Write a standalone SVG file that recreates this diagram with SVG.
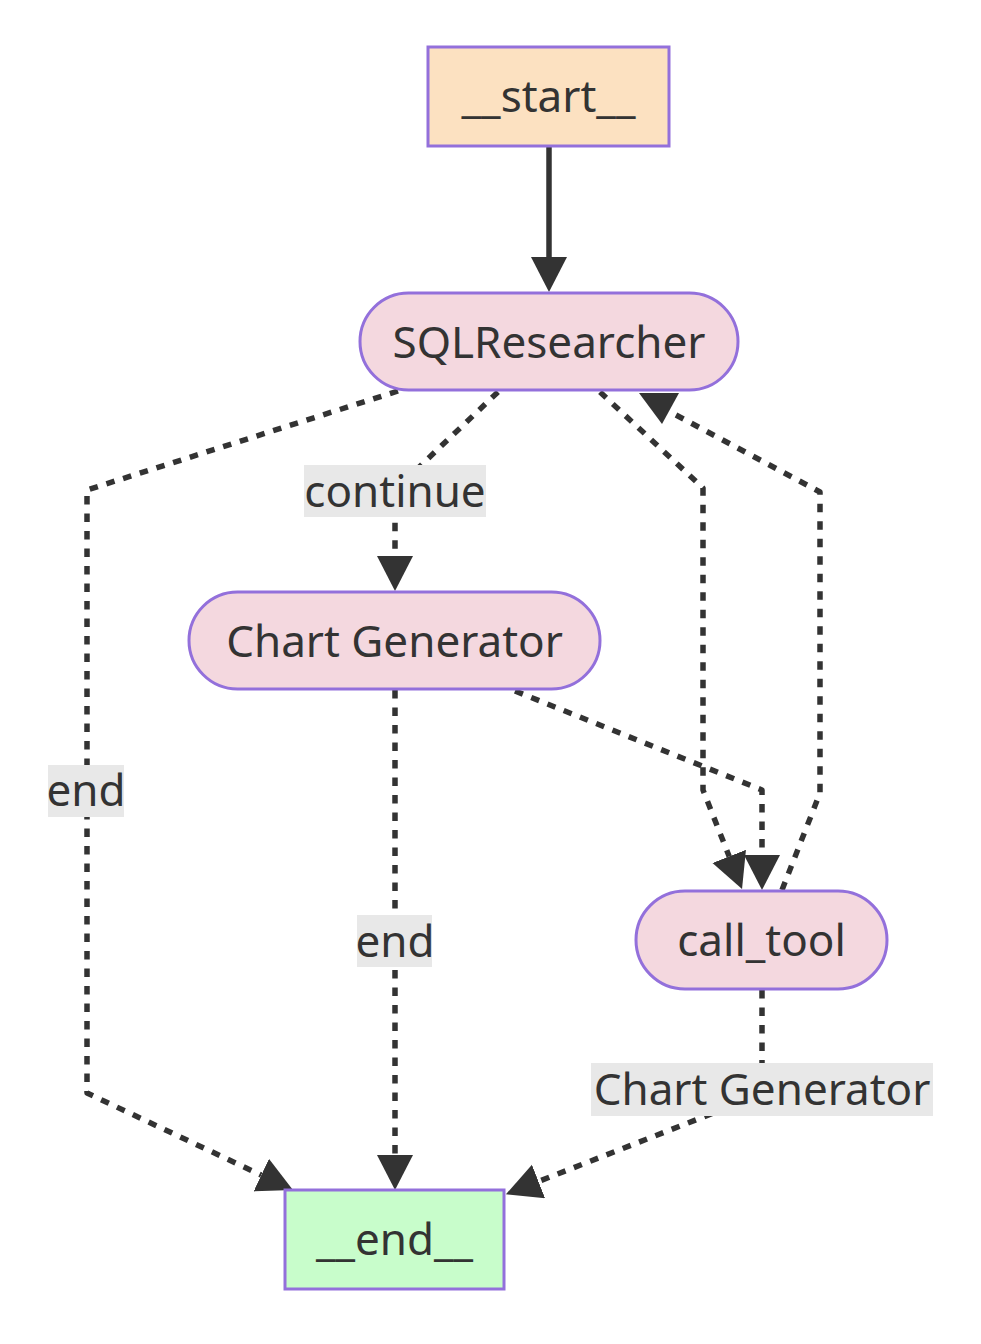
<svg xmlns="http://www.w3.org/2000/svg" width="981" height="1344" viewBox="0 0 981 1344">
<defs>
<style>
.node rect{stroke:#9370DB;stroke-width:3}
.start rect{fill:#fce1c1}
.mid rect{fill:#f4d8df}
.endn rect{fill:#c8fdcb}
text{font-family:"Noto Sans","DejaVu Sans",sans-serif;font-size:44px;fill:#333;text-anchor:middle}
.edge{fill:none;stroke:#333;stroke-width:5.5;stroke-linejoin:round}
.dot{stroke-dasharray:8.5 9}
.lbl rect{fill:#e8e8e8}
</style>
<marker id="ah" markerUnits="userSpaceOnUse" markerWidth="40" markerHeight="40" refX="0" refY="18" orient="auto">
<path d="M0,0 L35,18 L0,36 Z" fill="#333"/>
</marker>
</defs>
<rect width="981" height="1344" fill="#ffffff"/>
<g id="connectors">
<path class="edge" d="M549,146 L549,257" marker-end="url(#ah)"/>
<path class="edge dot" d="M398,391 L87,490 L87,1093 L261.3,1175.1" marker-end="url(#ah)"/>
<path class="edge dot" d="M498,392 L395,490 L395,556" marker-end="url(#ah)"/>
<path class="edge dot" d="M600,392 L703,488 L703,790 L729.2,856.4" marker-end="url(#ah)"/>
<path class="edge dot" d="M515,691 L762,790 L762,855" marker-end="url(#ah)"/>
<path class="edge dot" d="M782,890 L820,793 L820,492 L676,415"/>
<polygon points="639,393 679,393 662,424" fill="#333"/>
<path class="edge dot" d="M395,690 L395,1155" marker-end="url(#ah)"/>
<path class="edge dot" d="M762,990 L762,1094 L538.5,1181.5" marker-end="url(#ah)"/>
<g class="lbl"><rect x="304" y="465" width="182" height="52"/><text x="395" y="507">continue</text></g>
<g class="lbl"><rect x="48" y="765" width="76" height="52"/><text x="86" y="806">end</text></g>
<g class="lbl"><rect x="357" y="915" width="75" height="52"/><text x="395" y="957">end</text></g>
<g class="lbl"><rect x="591" y="1063" width="342" height="53"/><text x="762" y="1105">Chart Generator</text></g>
</g>
<g id="start" class="node start"><rect x="428" y="47" width="241" height="99"/><text x="548.5" y="112">__start__</text></g>
<g id="SQLResearcher" class="node mid"><rect x="360" y="293" width="378" height="97" rx="48.5" ry="48.5"/><text x="549" y="357.5">SQLResearcher</text></g>
<g id="ChartGenerator" class="node mid"><rect x="189" y="592" width="411" height="97" rx="48.5" ry="48.5"/><text x="394.5" y="656.5">Chart Generator</text></g>
<g id="call_tool" class="node mid"><rect x="636" y="891" width="251" height="98" rx="49" ry="49"/><text x="761.5" y="956">call_tool</text></g>
<g id="end" class="node endn"><rect x="285" y="1190" width="219" height="99"/><text x="394.5" y="1255">__end__</text></g>
</svg>
